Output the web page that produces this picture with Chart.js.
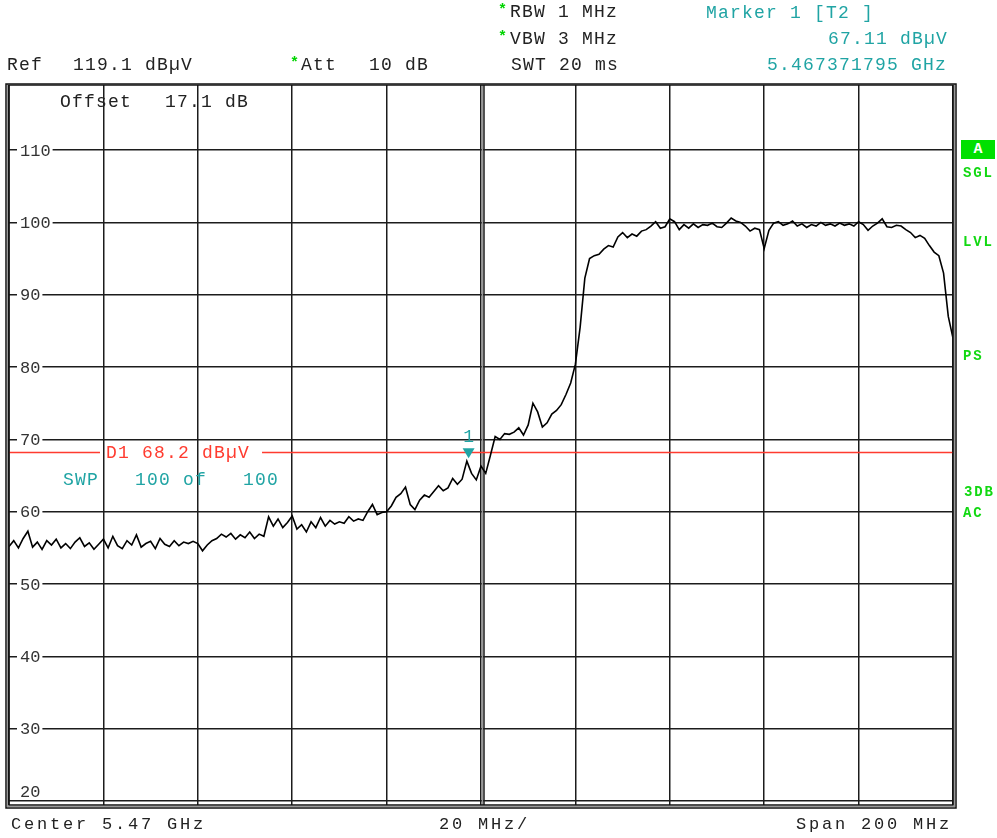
<!DOCTYPE html>
<html>
<head>
<meta charset="utf-8">
<script src="https://cdn.jsdelivr.net/npm/chart.js@4.4.1/dist/chart.umd.min.js"></script>
<style>
  html, body { margin: 0; padding: 0; background: #fff; }
  #wrap { position: relative; width: 997px; height: 838px; overflow: hidden; }
  #spectrum { position: absolute; left: 0; top: 0; }
  .t { position: absolute; font-family: 'Liberation Mono', monospace; font-size: 18px; line-height: 16px; letter-spacing: 1.2px; white-space: pre; color: #222; }
  .cy { color: #20a4a4; }
  .star { color: #00d400; font-size: 15px; letter-spacing: 0; font-weight: bold; }
  .bot { font-size: 17px; letter-spacing: 2.8px; }
  .side { color: #12d812; font-weight: bold; font-size: 14px; letter-spacing: 1.8px; }
  #boxA { position: absolute; left: 961px; top: 140px; width: 34px; height: 19px; background: #00e000; color: #fff;
          font: bold 15px 'Liberation Mono', monospace; text-align: center; line-height: 19px; }
</style>
</head>
<body>
<div id="wrap">
  <canvas id="spectrum" width="997" height="838"></canvas>

  <div class="t star" style="left:498px;top:3px">*</div>
  <div class="t" style="left:510px;top:4px">RBW 1 MHz</div>
  <div class="t star" style="left:498px;top:30px">*</div>
  <div class="t" style="left:510px;top:31px">VBW 3 MHz</div>
  <div class="t" style="left:511px;top:57px">SWT 20 ms</div>

  <div class="t" style="left:7px;top:57px">Ref</div>
  <div class="t" style="left:73px;top:57px">119.1 dBµV</div>
  <div class="t star" style="left:290px;top:56px">*</div>
  <div class="t" style="left:301px;top:57px">Att</div>
  <div class="t" style="left:369px;top:57px">10 dB</div>

  <div class="t cy" style="left:706px;top:5px">Marker 1 [T2 ]</div>
  <div class="t cy" style="left:828px;top:31px">67.11 dBµV</div>
  <div class="t cy" style="left:767px;top:57px">5.467371795 GHz</div>

  <div class="t bot" style="left:11px;top:817px">Center 5.47 GHz</div>
  <div class="t bot" style="left:439px;top:817px">20 MHz/</div>
  <div class="t bot" style="left:796px;top:817px">Span 200 MHz</div>

  <div id="boxA">A</div>
  <div class="t side" style="left:963px;top:165px">SGL</div>
  <div class="t side" style="left:963px;top:234px">LVL</div>
  <div class="t side" style="left:963px;top:348px">PS</div>
  <div class="t side" style="left:964px;top:484px">3DB</div>
  <div class="t side" style="left:963px;top:505px">AC</div>
</div>

<script>
const startMHz = 5370;
const stopMHz = 5570;
const stepMHz = 1;
const centerMHz = 5470;

// trace level in dBµV, one value per MHz from 5370 to 5570
const levels = [
  55.2, 56.0, 55.0, 56.3, 57.3, 55.1, 55.8, 54.8, 56.0, 55.4,
  56.2, 55.0, 55.6, 54.9, 55.8, 56.4, 55.2, 55.7, 54.8, 55.5,
  56.2, 55.0, 56.6, 55.3, 54.9, 56.0, 55.4, 56.8, 55.1, 55.6,
  55.9, 54.9, 56.3, 55.5, 55.2, 56.0, 55.3, 55.8, 55.6, 55.9,
  55.6, 54.6, 55.4, 56.0, 56.3, 56.9, 56.5, 57.0, 56.2, 56.8,
  56.4, 57.2, 56.3, 56.9, 56.6, 59.3, 58.0, 59.0, 57.8, 58.5,
  59.4, 57.6, 58.2, 57.2, 58.6, 57.8, 59.2, 58.0, 58.8, 58.3,
  58.6, 58.4, 59.3, 58.7, 59.0, 58.8, 60.0, 61.0, 59.6, 59.9,
  60.0, 60.8, 62.0, 62.5, 63.4, 61.0, 60.3, 61.6, 62.3, 62.0,
  62.8, 63.6, 62.9, 63.3, 64.6, 63.8, 64.5, 67.0, 65.3, 64.4,
  66.3, 65.3, 67.8, 70.4, 70.0, 70.8, 70.7, 71.0, 71.6, 70.6,
  72.0, 75.0, 73.8, 71.7, 72.3, 73.5, 74.0, 74.8, 76.2, 77.8,
  80.4, 85.5, 92.3, 95.0, 95.4, 95.6, 96.3, 96.8, 96.6, 98.0,
  98.6, 97.9, 98.4, 98.1, 98.8, 99.0, 99.5, 100.1, 99.2, 99.4,
  100.5, 100.1, 99.0, 99.7, 99.2, 99.8, 99.3, 99.7, 99.6, 99.9,
  99.4, 99.3, 99.9, 100.6, 100.2, 100.0, 99.5, 98.8, 99.2, 99.0,
  96.4, 98.9, 99.9, 100.1, 99.6, 99.8, 100.2, 99.5, 99.8, 99.3,
  99.7, 99.5, 100.0, 99.6, 99.8, 99.5, 99.9, 99.6, 99.8, 99.5,
  100.1, 99.7, 98.9, 99.5, 99.9, 100.5, 99.4, 99.3, 99.6, 99.5,
  99.0, 98.6, 97.9, 98.2, 97.8, 96.8, 95.9, 95.4, 93.0, 87.0,
  84.0
];

const xGridMHz = [5370, 5390, 5410, 5430, 5450, 5470, 5490, 5510, 5530, 5550, 5570];
const yTicks = [20, 30, 40, 50, 60, 70, 80, 90, 100, 110];
const yMin = 19.45;
const yMax = 119.0;

const displayLine = 68.2;
const displayLabel = 'D1 68.2 dBµV';
const markerMHz = 5467.371795;
const markerLevel = 67.11;

const GRID = '#1c1c1c';
const RED = '#ff3b2f';
const CYAN = '#20a4a4';
const MONO = "'Liberation Mono', monospace";

const points = levels.map((v, i) => ({ x: startMHz + i * stepMHz, y: v }));

const overlayPlugin = {
  id: 'overlay',
  beforeDatasetsDraw(chart) {
    const { ctx, chartArea: a, scales: { x, y } } = chart;
    ctx.save();

    // double centre line
    const cx = x.getPixelForValue(centerMHz);
    ctx.strokeStyle = '#999';
    ctx.lineWidth = 1.5;
    ctx.beginPath();
    ctx.moveTo(cx + 1.5, a.top);
    ctx.lineTo(cx + 1.5, a.bottom);
    ctx.stroke();
    ctx.strokeStyle = GRID;
    ctx.beginPath();
    ctx.moveTo(cx + 3, a.top);
    ctx.lineTo(cx + 3, a.bottom);
    ctx.stroke();

    // level labels sitting on their grid lines
    ctx.font = '17px ' + MONO;
    ctx.letterSpacing = '0px';
    ctx.textBaseline = 'middle';
    yTicks.forEach((v, i) => {
      let py = y.getPixelForValue(v);
      if (i === 0) {
        py -= 10;
      }
      const label = String(v);
      const w = ctx.measureText(label).width;
      ctx.fillStyle = '#fff';
      ctx.fillRect(a.left + 8, py - 7, w + 5, 14);
      ctx.fillStyle = '#333';
      ctx.fillText(label, a.left + 11, py + 1);
    });

    // display line D1
    ctx.font = '18px ' + MONO;
    ctx.letterSpacing = '1.2px';
    const dy = y.getPixelForValue(displayLine);
    const lx = a.left + 97;
    const lw = ctx.measureText(displayLabel).width;
    ctx.strokeStyle = RED;
    ctx.lineWidth = 1.5;
    ctx.beginPath();
    ctx.moveTo(a.left, dy);
    ctx.lineTo(lx - 6, dy);
    ctx.moveTo(lx + lw + 12, dy);
    ctx.lineTo(a.right, dy);
    ctx.stroke();
    ctx.fillStyle = RED;
    ctx.fillText(displayLabel, lx, dy + 1);

    ctx.fillStyle = '#222';
    ctx.fillText('Offset', 60, 102);
    ctx.fillText('17.1 dB', 165, 102);

    ctx.fillStyle = CYAN;
    ctx.fillText('SWP   100 of   100', 63, 480);

    ctx.restore();
  },
  afterDatasetsDraw(chart) {
    const { ctx, scales: { x, y } } = chart;
    const mx = x.getPixelForValue(markerMHz);
    const my = y.getPixelForValue(markerLevel);
    ctx.save();
    ctx.fillStyle = CYAN;
    ctx.beginPath();
    ctx.moveTo(mx - 6, my - 12);
    ctx.lineTo(mx + 6, my - 12);
    ctx.lineTo(mx, my - 2);
    ctx.closePath();
    ctx.fill();
    ctx.font = '18px ' + MONO;
    ctx.textAlign = 'center';
    ctx.textBaseline = 'middle';
    ctx.fillText('1', mx, my - 23);
    ctx.restore();
  },
  afterDraw(chart) {
    const { ctx, chartArea: a } = chart;
    ctx.save();
    ctx.strokeStyle = '#111';
    ctx.lineWidth = 1.5;
    ctx.strokeRect(a.left, a.top, a.width, a.height);
    ctx.strokeStyle = '#999';
    ctx.lineWidth = 1;
    ctx.strokeRect(a.left - 1.5, a.top - 0.5, a.width + 3, a.height + 2);
    ctx.strokeStyle = '#111';
    ctx.lineWidth = 1.5;
    ctx.strokeRect(a.left - 3, a.top - 1, a.width + 6, a.height + 4);
    ctx.restore();
  }
};

new Chart(document.getElementById('spectrum'), {
  type: 'line',
  data: {
    datasets: [
      {
        data: points,
        borderColor: '#000',
        borderWidth: 1.6,
        pointRadius: 0,
        tension: 0,
        fill: false,
      },
    ],
  },
  options: {
    responsive: false,
    animation: false,
    events: [],
    layout: { padding: { left: 9, right: 44, top: 85, bottom: 33 } },
    plugins: {
      legend: { display: false },
      tooltip: { enabled: false },
    },
    scales: {
      x: {
        type: 'linear',
        min: startMHz,
        max: stopMHz,
        border: { display: false },
        grid: { color: GRID, lineWidth: 1.5, drawTicks: false },
        ticks: { display: false },
        afterBuildTicks: (scale) => {
          scale.ticks = xGridMHz.map((v) => ({ value: v }));
        },
        afterFit: (scale) => {
          scale.height = 0;
        },
      },
      y: {
        min: yMin,
        max: yMax,
        border: { display: false },
        grid: { color: GRID, lineWidth: 1.5, drawTicks: false },
        ticks: { display: false },
        afterBuildTicks: (scale) => {
          scale.ticks = yTicks.map((v) => ({ value: v }));
        },
        afterFit: (scale) => {
          scale.width = 0;
        },
      },
    },
  },
  plugins: [overlayPlugin],
});
</script>
</body>
</html>
